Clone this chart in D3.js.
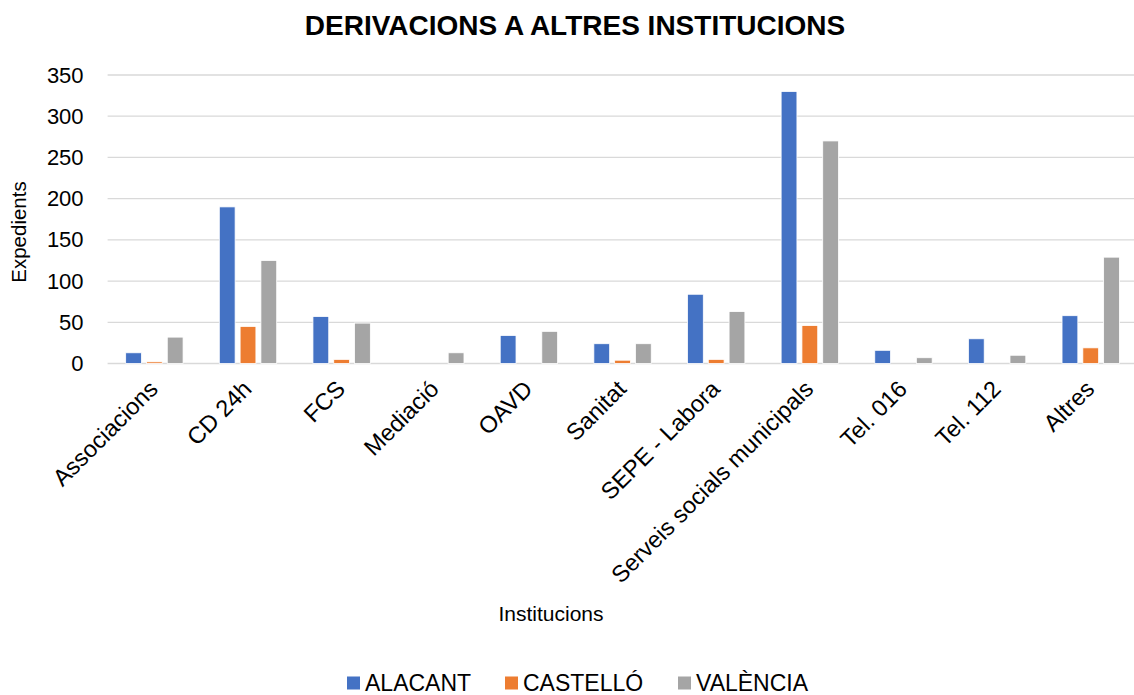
<!DOCTYPE html>
<html><head><meta charset="utf-8">
<script src="https://cdn.jsdelivr.net/npm/d3@7"></script>
<style>body{margin:0;background:#fff;font-family:"Liberation Sans",Arial,sans-serif;}</style>
</head><body>
<svg id="c" width="1134" height="695"></svg>
<script>
const categories = ["Associacions","CD 24h","FCS","Mediació","OAVD","Sanitat","SEPE - Labora","Serveis socials municipals","Tel. 016","Tel. 112","Altres"];
const seriesNames = ["ALACANT","CASTELLÓ","VALÈNCIA"];
const alacant  = [13,190,57,0,34,24,84,330,16,30,58];
const castello = [2,45,5,0,0,4,5,46,0,0,19];
const valencia = [32,125,49,13,39,24,63,270,7,10,129];
const yTicks = [0,50,100,150,200,250,300,350];
const colors = ["#4472C4","#ED7D31","#A5A5A5"];
const series = [alacant, castello, valencia];

const FONT = "Liberation Sans, Arial, sans-serif";
const svg = d3.select("#c");
const m = {l:107.6, r:1137.6, t:75, b:363.5};
const x = d3.scaleBand().domain(categories).range([m.l, m.r]).padding(0);
const y = d3.scaleLinear().domain([0,350]).range([m.b, m.t]);
const bw = x.bandwidth();
const x1 = d3.scaleBand().domain(seriesNames).range([bw*0.193, bw*0.806]).paddingInner(0.24);

// gridlines
svg.append("g").selectAll("line").data(yTicks).join("line")
  .attr("x1", m.l).attr("x2", m.r).attr("y1", d=>y(d)).attr("y2", d=>y(d))
  .attr("stroke", "#d9d9d9").attr("stroke-width", 1.3);

// y axis labels
const yAxis = d3.axisLeft(y).tickValues(yTicks).tickSize(0).tickPadding(24);
const ya = svg.append("g").attr("transform", `translate(${m.l},0)`).call(yAxis);
ya.select(".domain").remove();
ya.selectAll("text").attr("font-size", 22).attr("fill", "#000").attr("font-family", FONT);

// bars
series.forEach((vals, si) => {
  svg.append("g").selectAll("rect").data(vals).join("rect")
    .attr("x", (d,i) => x(categories[i]) + x1(seriesNames[si]))
    .attr("width", x1.bandwidth())
    .attr("y", d => y(d))
    .attr("height", d => y(0) - y(d))
    .attr("fill", colors[si])
    .attr("stroke", "#fff").attr("stroke-width", 0.8);
});

// x axis labels
const xAxis = d3.axisBottom(x).tickSize(0).tickPadding(0);
const xa = svg.append("g").attr("transform", `translate(0,${m.b})`).call(xAxis);
xa.select(".domain").remove();
xa.selectAll("text")
  .attr("font-size", 23.5).attr("fill", "#000").attr("font-family", FONT)
  .attr("text-anchor", "end").attr("dy", null).attr("y", 0)
  .attr("transform", "translate(5,27) rotate(-45)");

// title
svg.append("text").attr("x", 575).attr("y", 35).attr("text-anchor", "middle")
  .attr("font-family", FONT).attr("font-size", 28).attr("font-weight", "bold").text("DERIVACIONS A ALTRES INSTITUCIONS");

// axis titles
svg.append("text").attr("x", 551).attr("y", 621).attr("text-anchor", "middle")
  .attr("font-family", FONT).attr("font-size", 21).text("Institucions");
svg.append("text").attr("transform", "translate(26,232) rotate(-90)").attr("text-anchor", "middle")
  .attr("font-family", FONT).attr("font-size", 20.5).text("Expedients");

// legend
const legX = [347, 505, 678];
const lg = svg.append("g");
seriesNames.forEach((s, i) => {
  lg.append("rect").attr("x", legX[i]).attr("y", 676.5).attr("width", 13).attr("height", 13).attr("fill", colors[i]);
  lg.append("text").attr("x", legX[i] + 18).attr("y", 690.5).attr("font-family", FONT).attr("font-size", 23).text(s);
});
</script>
</body></html>
